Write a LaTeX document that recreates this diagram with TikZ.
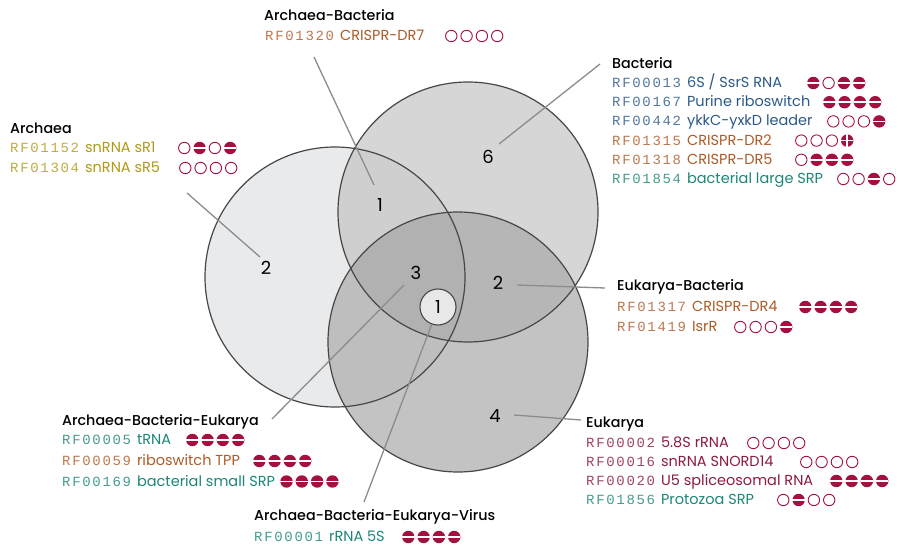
\documentclass[tikz,border=0pt]{standalone}
\usepackage{fontspec}
\setmainfont{Poppins}
\newfontfamily\hdfont{Poppins Medium}
\newfontfamily\cdfont{Liberation Mono}[LetterSpace=12]
\usetikzlibrary{calc}

\definecolor{cOlive}{HTML}{B09A16}
\definecolor{cBlue}{HTML}{2C5A87}
\definecolor{cRust}{HTML}{AE5B27}
\definecolor{cTeal}{HTML}{1E8678}
\definecolor{cMaroon}{HTML}{8C1C42}
\definecolor{mkred}{HTML}{A5103E}
\definecolor{fL}{HTML}{E9EAEC}
\definecolor{fB}{HTML}{D6D6D6}
\definecolor{fE}{HTML}{C3C3C3}
\definecolor{fLB}{HTML}{CFCFCF}
\definecolor{fLE}{HTML}{BEBEBE}
\definecolor{fBE}{HTML}{B6B6B6}
\definecolor{fLBE}{HTML}{B1B1B1}
\definecolor{fV}{HTML}{E8E8E8}
\definecolor{ring}{HTML}{474747}
\definecolor{lead}{HTML}{8C8C8C}

% accession code in a lighter tint of the row colour, then the family name
\newcommand\cd[1]{{\cdfont\fontsize{14}{16}\selectfont\color{.!82!white}#1}}
\newcommand\nm{\hspace{6pt}\rmfamily\fontsize{14.5}{17}\selectfont}

\tikzset{
  ringline/.style={draw=ring, line width=1.2pt},
  leader/.style={draw=lead, line width=1.3pt},
  heading/.style={anchor=base west, inner sep=0pt, font=\hdfont\fontsize{14.3}{16}\selectfont},
  row/.style={anchor=base west, inner sep=0pt},
  count/.style={inner sep=0pt, font=\fontsize{18}{20}\selectfont},
  mko/.pic={\draw[mkred, line width=0.9pt] (0,0) circle (5.7pt);},
  mkh/.pic={\fill[mkred] (0,0) circle (6.2pt);
            \draw[white, line width=1.7pt] (-6.2pt,0) -- (6.2pt,0);},
  mkx/.pic={\fill[mkred] (0,0) circle (6.2pt);
            \draw[white, line width=1.7pt] (-6.2pt,0) -- (6.2pt,0) (0,-6.2pt) -- (0,6.2pt);},
}

% #1 row node, #2 left edge of the first mark (kept clear of the text), #3 list of marks
\newdimen\mrowdim
\newcommand\mrow[3]{%
  \pgfextractx{\mrowdim}{\pgfpointanchor{#1}{base east}}%
  \pgfmathsetmacro\mrowx{max(#2,\mrowdim+5)}%
  \foreach \m [count=\i from 0] in {#3}
    {\pic[yshift=4.5pt] at ({\mrowx+6.3+\i*15.3},0 |- #1.base) {mk\m};}}

\begin{document}
\begin{tikzpicture}[x=1pt, y=-1pt]
\useasboundingbox (0,0) rectangle (898,546);
\fill[white] (0,0) rectangle (898,546);

% circle centres and radii
\coordinate (cA) at (335,277);
\coordinate (cB) at (468,212);
\coordinate (cE) at (458,342);

% region fills
\fill[fL] (cA) circle (130pt);
\fill[fB] (cB) circle (130pt);
\fill[fE] (cE) circle (130pt);
\begin{scope}
  \clip (cA) circle (130pt);
  \fill[fLB] (cB) circle (130pt);
  \fill[fLE] (cE) circle (130pt);
\end{scope}
\begin{scope}
  \clip (cB) circle (130pt);
  \fill[fBE] (cE) circle (130pt);
  \clip (cA) circle (130pt);
  \fill[fLBE] (cE) circle (130pt);
\end{scope}
\draw[ringline] (cA) circle (130pt);
\draw[ringline] (cB) circle (130pt);
\draw[ringline] (cE) circle (130pt);

% leader lines
\coordinate (lA1) at (187,193);  \coordinate (lA2) at (260,257);
\coordinate (lAB1) at (314,57);  \coordinate (lAB2) at (374,185);
\coordinate (lB1) at (600,64);   \coordinate (lB2) at (499,144);
\coordinate (lEB1) at (517,285); \coordinate (lEB2) at (605,288);
\coordinate (lE1) at (514,415);  \coordinate (lE2) at (581,420);
\coordinate (lABE1) at (404,285); \coordinate (lABE2) at (272,419);
\coordinate (lV2) at (364,502);
\draw[leader] (lA1) -- (lA2);
\draw[leader] (lAB1) -- (lAB2);
\draw[leader] (lB1) -- (lB2);
\draw[leader] (lEB1) -- (lEB2);
\draw[leader] (lE1) -- (lE2);
\draw[leader] (lABE1) -- (lABE2);

% virus circle
\node[circle, minimum size=36pt, inner sep=0pt, fill=fV, draw=ring, line width=1.1pt,
      font=\fontsize{18}{20}\selectfont] (nV) at (438,307) {1};
\draw[leader] (nV.250) -- (lV2);

% region counts
\node[count] (nAB) at (380,205) {1};
\node[count] (nB) at (488,157) {6};
\node[count] (nA) at (266,268) {2};
\node[count] (nABE) at (416,273) {3};
\node[count] (nEB) at (498,283) {2};
\node[count] (nE) at (495,416) {4};

% Archaea
\node[heading] (hA) at (10,133) {Archaea};
\node[row, text=cOlive] (a1) at (10,152.5) {\cd{RF01152}\nm snRNA sR1};
\node[row, text=cOlive] (a2) at (10,172.5) {\cd{RF01304}\nm snRNA sR5};
\mrow{a1}{178}{o,h,o,h}
\mrow{a2}{179}{o,o,o,o}

% Archaea-Bacteria
\node[heading] (hAB) at (264,20) {Archaea-Bacteria};
\node[row, text=cRust] (ab1) at (265,40.5) {\cd{RF01320}\nm CRISPR-DR7};
\mrow{ab1}{445}{o,o,o,o}

% Bacteria
\node[heading] (hB) at (612,68) {Bacteria};
\node[row, text=cBlue] (b1) at (612,87.5) {\cd{RF00013}\nm 6S / SsrS RNA};
\node[row, text=cBlue] (b2) at (612,106.7) {\cd{RF00167}\nm Purine riboswitch};
\node[row, text=cBlue] (b3) at (612,125.9) {\cd{RF00442}\nm ykkC-yxkD leader};
\node[row, text=cRust] (b4) at (612,145.1) {\cd{RF01315}\nm CRISPR-DR2};
\node[row, text=cRust] (b5) at (612,164.3) {\cd{RF01318}\nm CRISPR-DR5};
\node[row, text=cTeal] (b6) at (612,183.5) {\cd{RF01854}\nm bacterial large SRP};
\mrow{b1}{807}{h,o,h,h}
\mrow{b2}{823}{h,h,h,h}
\mrow{b3}{827}{o,o,o,h}
\mrow{b4}{795}{o,o,o,x}
\mrow{b5}{795}{o,h,h,h}
\mrow{b6}{837}{o,o,h,o}

% Eukarya-Bacteria
\node[heading] (hEB) at (617,290) {Eukarya-Bacteria};
\node[row, text=cRust] (eb1) at (617,311.5) {\cd{RF01317}\nm CRISPR-DR4};
\node[row, text=cRust] (eb2) at (617,331.5) {\cd{RF01419}\nm IsrR};
\mrow{eb1}{799}{h,h,h,h}
\mrow{eb2}{734}{o,o,o,h}

% Eukarya
\node[heading] (hE) at (586,427) {Eukarya};
\node[row, text=cMaroon] (e1) at (586,447.5) {\cd{RF00002}\nm 5.8S rRNA};
\node[row, text=cMaroon] (e2) at (586,466.5) {\cd{RF00016}\nm snRNA SNORD14};
\node[row, text=cMaroon] (e3) at (586,485.5) {\cd{RF00020}\nm U5 spliceosomal RNA};
\node[row, text=cTeal] (e4) at (586,504.5) {\cd{RF01856}\nm Protozoa SRP};
\mrow{e1}{747}{o,o,o,o}
\mrow{e2}{800}{o,o,o,o}
\mrow{e3}{830}{h,h,h,h}
\mrow{e4}{777}{o,h,o,o}

% Archaea-Bacteria-Eukarya
\node[heading] (hABE) at (62,425) {Archaea-Bacteria-Eukarya};
\node[row, text=cTeal] (abe1) at (62,444.5) {\cd{RF00005}\nm tRNA};
\node[row, text=cRust] (abe2) at (62,465.5) {\cd{RF00059}\nm riboswitch TPP};
\node[row, text=cTeal] (abe3) at (62,486) {\cd{RF00169}\nm bacterial small SRP};
\mrow{abe1}{186}{h,h,h,h}
\mrow{abe2}{253}{h,h,h,h}
\mrow{abe3}{275}{h,h,h,h}

% Archaea-Bacteria-Eukarya-Virus
\node[heading] (hABEV) at (254,520) {Archaea-Bacteria-Eukarya-Virus};
\node[row, text=cTeal] (abev1) at (254,541.5) {\cd{RF00001}\nm rRNA 5S};
\mrow{abev1}{402}{h,h,h,h}
\end{tikzpicture}
\end{document}
